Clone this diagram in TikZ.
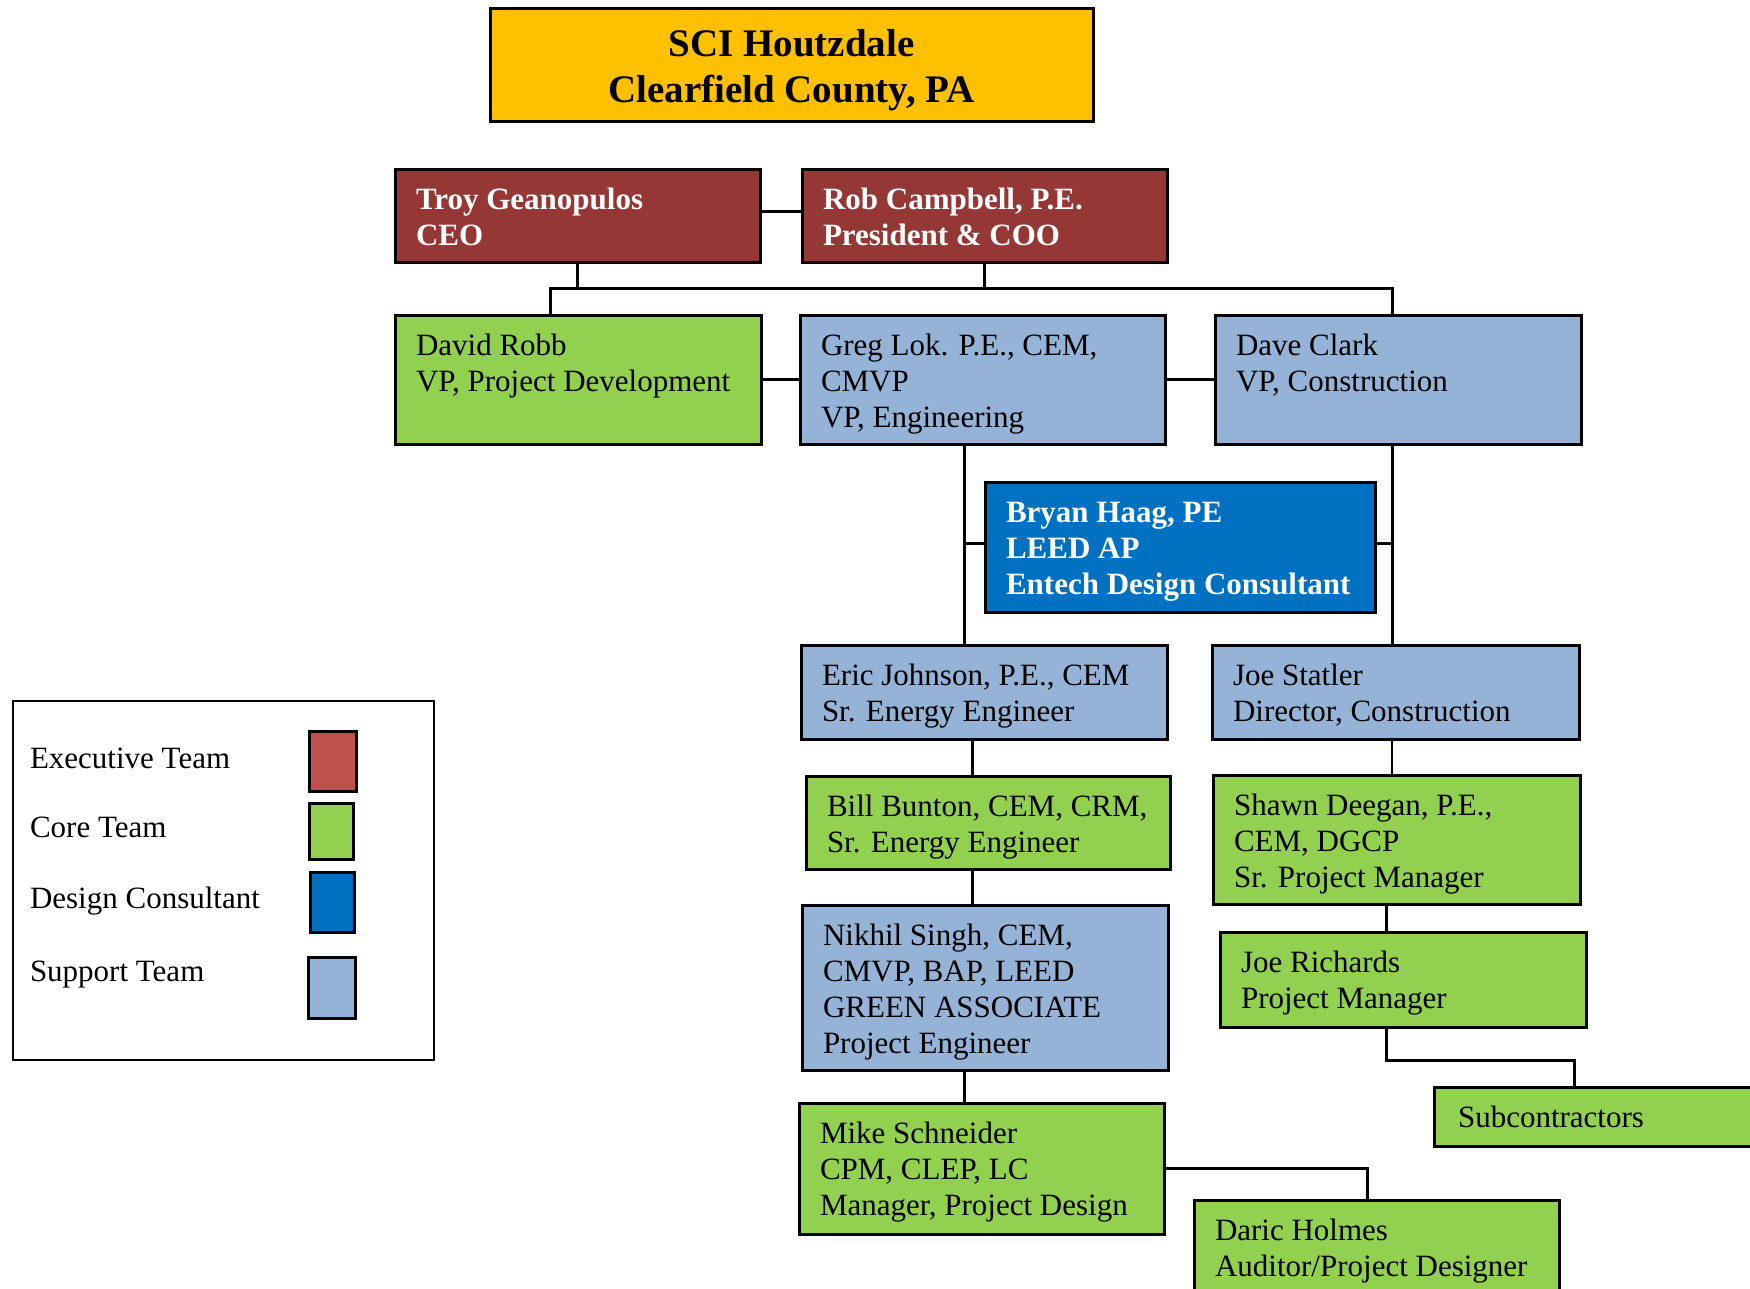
\documentclass[tikz,border=0pt]{standalone}
\usepackage{fontspec}
\setmainfont{Liberation Serif}
\usetikzlibrary{calc}
\definecolor{execred}{HTML}{953735}
\definecolor{execsw}{HTML}{C0504D}
\definecolor{coregreen}{HTML}{92D050}
\definecolor{designblue}{HTML}{0070C0}
\definecolor{supportblue}{HTML}{95B3D7}
\definecolor{titlegold}{HTML}{FFC000}
\tikzset{
  boxstyle/.style={draw=black, line width=3pt, outer sep=0pt, inner sep=0pt},
  bt/.style={font=\fontsize{31}{36}\selectfont, text=black},
  wt/.style={font=\fontsize{31}{36}\selectfont\bfseries, text=white},
  boxtext/.style={align=left, inner sep=0pt, outer sep=0pt},
  conn/.style={draw=black, line width=3pt},
  thinconn/.style={draw=black, line width=2pt},
  legtext/.style={font=\fontsize{31}{36}\selectfont, inner sep=0pt, outer sep=0pt},
  swatch/.style={draw=black, line width=3pt, outer sep=0pt, inner sep=0pt, anchor=north west},
}
\newcommand\orgbox[8]{%
  \node[boxstyle,fill=#6,minimum width={#4-#2},minimum height={#5-#3},anchor=north west] (#1) at (#2,#3) {};
  \node[boxtext,#7,anchor=north west] (#1-t) at ($(#1.north west)+(21,14.8)$) {\strut #8};
}
\begin{document}
\begin{tikzpicture}[x=1pt,y=-1pt]
\clip (0,0) rectangle (1750,1289);
\fill[white] (0,0) rectangle (1750,1289);

% title
\node[boxstyle,fill=titlegold,minimum width=603,minimum height=113,anchor=north west] (title) at (490,9) {};
\node[align=center,inner sep=0pt,outer sep=0pt,font=\fontsize{39}{46}\selectfont\bfseries,anchor=north] (title-t) at ($(title.north)+(0,15.0)$) {\strut SCI Houtzdale\\Clearfield County, PA};

% boxes
\orgbox{troy}{395}{170}{760}{263}{execred}{wt}{Troy Geanopulos\\CEO}
\orgbox{rob}{802}{170}{1167}{263}{execred}{wt}{Rob Campbell, P.E.\\President \& COO}
\orgbox{david}{395}{315}{761}{444}{coregreen}{bt}{David Robb\\VP, Project Development}
\orgbox{greg}{800}{315}{1165}{444}{supportblue}{bt}{Greg Lok. P.E., CEM,\\CMVP\\VP, Engineering}
\orgbox{dave}{1215}{315}{1581}{444}{supportblue}{bt}{Dave Clark\\VP, Construction}
\orgbox{bryan}{985}{482}{1375}{612}{designblue}{wt}{Bryan Haag, PE\\LEED AP\\Entech Design Consultant}
\orgbox{eric}{801}{645}{1167}{739}{supportblue}{bt}{Eric Johnson, P.E., CEM\\Sr. Energy Engineer}
\orgbox{joes}{1212}{645}{1579}{739}{supportblue}{bt}{Joe Statler\\Director, Construction}
\orgbox{bill}{806}{776}{1170}{869}{coregreen}{bt}{Bill Bunton, CEM, CRM,\\Sr. Energy Engineer}
\orgbox{shawn}{1213}{775}{1580}{904}{coregreen}{bt}{Shawn Deegan, P.E.,\\CEM, DGCP\\Sr. Project Manager}
\orgbox{nikhil}{802}{905}{1168}{1070}{supportblue}{bt}{Nikhil Singh, CEM,\\CMVP, BAP, LEED\\GREEN ASSOCIATE\\Project Engineer}
\orgbox{joer}{1220}{932}{1586}{1027}{coregreen}{bt}{Joe Richards\\Project Manager}
\orgbox{sub}{1434}{1087}{1800}{1146}{coregreen}{bt,xshift=3pt}{Subcontractors}
\orgbox{mike}{799}{1103}{1164}{1234}{coregreen}{bt}{Mike Schneider\\CPM, CLEP, LC\\Manager, Project Design}
\orgbox{daric}{1194}{1200}{1559}{1340}{coregreen}{bt}{Daric Holmes\\Auditor/Project Designer}

% connector coordinates
\coordinate (busL) at (550,288);
\coordinate (busR) at (1392,288);
\coordinate (gv) at (964,0);
\coordinate (dv) at (1392,0);
\coordinate (ev) at (972,0);
\coordinate (sv) at (1386,0);
\coordinate (subL) at (1386,1060);
\coordinate (subR) at (1574,1060);
\coordinate (dh) at (1367,0);

% connectors
\draw[conn] ([yshift=4.5pt]troy.east) -- ([yshift=4.5pt]rob.west);
\draw[conn] (troy.south) -- (troy.south |- busL);
\draw[conn] (rob.south) -- (rob.south |- busL);
\draw[conn] (david.north -| busL) -- (busL) -- (busR) -- (dave.north -| busR);
\draw[conn] (david.east) -- (greg.west);
\draw[conn] (greg.east) -- (dave.west);
\draw[conn] (greg.south -| gv) -- (eric.north -| gv);
\draw[conn] ([yshift=4pt]bryan.west) -- ([yshift=4pt]bryan.west -| gv);
\draw[conn] (dave.south -| dv) -- (joes.north -| dv);
\draw[conn] ([yshift=4pt]bryan.east) -- ([yshift=4pt]bryan.east -| dv);
\draw[conn] (eric.south -| ev) -- (bill.north -| ev);
\draw[conn] (bill.south -| ev) -- (nikhil.north -| ev);
\draw[conn] (nikhil.south -| gv) -- (mike.north -| gv);
\draw[thinconn] (joes.south -| dv) -- (shawn.north -| dv);
\draw[conn] (shawn.south -| sv) -- (joer.north -| sv);
\draw[conn] (joer.south -| subL) -- (subL) -- (subR) -- (sub.north -| subR);
\draw[conn] (mike.east) -- (mike.east -| dh) -- (daric.north -| dh);

% legend
\node[draw=black,line width=2pt,minimum width=421,minimum height=359,anchor=north west,outer sep=0pt,inner sep=0pt] (legend) at (13,701) {};
\node[legtext,anchor=base west] (lgexec) at (30,768) {Executive Team};
\node[legtext,anchor=base west] (lgcore) at (30,837) {Core Team};
\node[legtext,anchor=base west] (lgdesign) at (30,908) {Design Consultant};
\node[legtext,anchor=base west] (lgsupport) at (30,981) {Support Team};
\node[swatch,fill=execsw,minimum width=47,minimum height=60] (swexec) at (309,731) {};
\node[swatch,fill=coregreen,minimum width=44,minimum height=56] (swcore) at (309,803) {};
\node[swatch,fill=designblue,minimum width=44,minimum height=60] (swdesign) at (310,872) {};
\node[swatch,fill=supportblue,minimum width=47,minimum height=61] (swsupport) at (308,957) {};
\end{tikzpicture}
\end{document}
